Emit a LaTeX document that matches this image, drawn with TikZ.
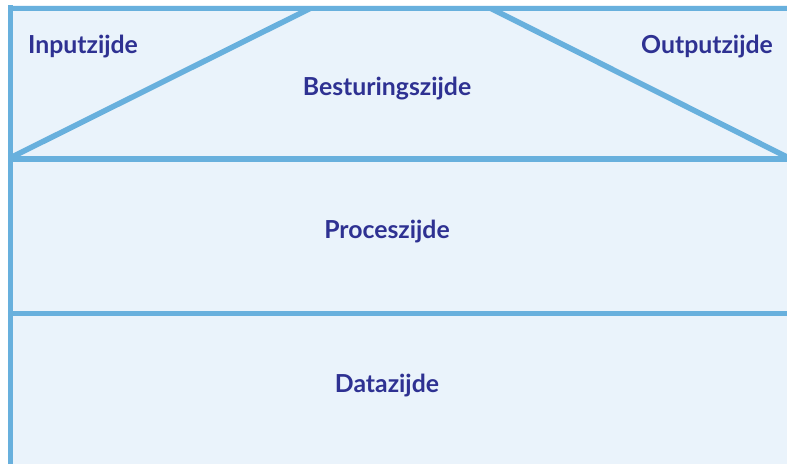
\documentclass[tikz,border=0pt]{standalone}
\usepackage{fontspec}
\setmainfont{Lato}
\definecolor{linec}{HTML}{68B0DD}
\definecolor{fillc}{HTML}{EAF3FB}
\definecolor{textc}{HTML}{2E3192}
\tikzset{
  lbl/.style={text=textc, font=\bfseries\fontsize{24.8}{28}\selectfont, inner sep=0pt},
  wall/.style={draw=linec, line width=5.5pt}
}
\begin{document}
\begin{tikzpicture}[x=1pt,y=1pt]
\useasboundingbox (0,0) rectangle (787,464);
\fill[fillc] (8,0) rectangle (787,459);
% frame lines
\draw[wall] (10.5,0) -- (10.5,459);
\draw[wall] (8,455.5) -- (787,455.5);
\draw[wall] (8,305) -- (787,305);
\draw[wall] (8,150.5) -- (787,150.5);
% diagonals
\draw[wall, line join=round] (12,307) -- (310,455.5);
\draw[wall, line join=round] (491,455.5) -- (787,307);
% labels
\node[lbl] (in) at (83,417) {Inputzijde};
\node[lbl] (out) at (707,417) {Outputzijde};
\node[lbl] (best) at (387,375) {Besturingszijde};
\node[lbl] (proc) at (387,232) {Proceszijde};
\node[lbl] (data) at (387,78) {Datazijde};
\end{tikzpicture}
\end{document}
